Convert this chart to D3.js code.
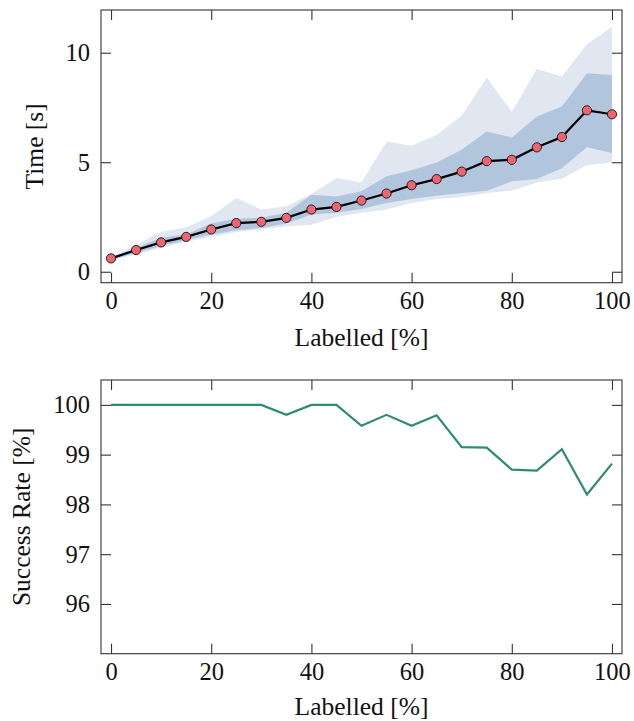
<!DOCTYPE html>
<html>
<head>
<meta charset="utf-8">
<script src="https://cdn.jsdelivr.net/npm/d3@7"></script>
<style>
  html, body { margin: 0; padding: 0; background: #fff; }
  svg text { font-family: "Liberation Serif", "DejaVu Serif", serif; fill: #111; }
</style>
</head>
<body>
<svg id="chart" width="634" height="721"></svg>
<script>
// ---- data ----
const labelled = [0,5,10,15,20,25,30,35,40,45,50,55,60,65,70,75,80,85,90,95,100];
const timeMean = [0.61,0.99,1.34,1.59,1.93,2.22,2.28,2.46,2.84,2.96,3.25,3.57,3.95,4.23,4.57,5.05,5.11,5.68,6.15,7.37,7.19];
const timeOuterLow  = [0.52,0.79,1.09,1.37,1.59,1.82,1.93,2.08,2.15,2.50,2.69,2.84,3.14,3.32,3.41,3.60,3.70,4.08,4.25,4.86,4.99];
const timeOuterHigh = [0.66,1.24,1.82,2.03,2.53,3.37,2.84,2.99,3.55,4.28,4.08,5.95,5.75,6.25,7.12,8.86,7.31,9.26,8.91,10.39,11.18];
const timeInnerLow  = [0.55,0.86,1.17,1.44,1.70,1.90,2.00,2.20,2.61,2.69,2.87,3.14,3.32,3.47,3.60,3.70,4.13,4.23,4.73,5.68,5.42];
const timeInnerHigh = [0.64,1.09,1.55,1.70,2.20,2.42,2.46,2.69,3.52,3.44,3.67,4.36,4.63,4.99,5.57,6.40,6.13,7.09,7.54,9.06,8.98];
const successRate = [100,100,100,100,100,100,100,99.8,100,100,99.58,99.8,99.58,99.79,99.15,99.14,98.70,98.68,99.11,98.20,98.82];
const xTicks = [0,20,40,60,80,100];
const timeTicks = [0,5,10];
const rateTicks = [96,97,98,99,100];

// ---- layout ----
const svg = d3.select("#chart");
const frameL = 101, frameR = 622;
const x = d3.scaleLinear().domain([-2, 102]).range([frameL, frameR]);

const panelTop = { t: 10, b: 282.7 };
const panelBot = { t: 380, b: 653.7 };
const yT = d3.scaleLinear().domain([-0.5, 11.95]).range([panelTop.b, panelTop.t]);
const yB = d3.scaleLinear().domain([95, 100.5]).range([panelBot.b, panelBot.t]);

const frameColor = "#333";
const tickLen = 10;
const tickFont = 24.5;
const labelFont = 25.5;

function drawFrame(g, y, panel, yTicks, xLabel, yLabel, yLabelX, xLabelDy) {
  const gf = g.append("g");
  gf.append("rect").attr("x", frameL).attr("y", panel.t)
    .attr("width", frameR - frameL).attr("height", panel.b - panel.t)
    .attr("fill", "none").attr("stroke", frameColor).attr("stroke-width", 1.1);
  const bottomAxis = d3.axisBottom(x).tickValues(xTicks).tickSize(-tickLen).tickPadding(9).tickFormat(d3.format("d"));
  const topAxis = d3.axisTop(x).tickValues(xTicks).tickSize(-tickLen).tickFormat("");
  const leftAxis = d3.axisLeft(y).tickValues(yTicks).tickSize(-tickLen).tickPadding(11).tickFormat(d3.format("d"));
  const rightAxis = d3.axisRight(y).tickValues(yTicks).tickSize(-tickLen).tickFormat("");
  const ax = [
    gf.append("g").attr("transform", `translate(0,${panel.b})`).call(bottomAxis),
    gf.append("g").attr("transform", `translate(0,${panel.t})`).call(topAxis),
    gf.append("g").attr("transform", `translate(${frameL},0)`).call(leftAxis),
    gf.append("g").attr("transform", `translate(${frameR},0)`).call(rightAxis)
  ];
  ax.forEach(a => {
    a.select(".domain").remove();
    a.selectAll("line").attr("stroke", frameColor).attr("stroke-width", 1.1);
    a.selectAll("text").attr("font-size", tickFont).attr("font-family", "Liberation Serif").attr("fill", "#111");
  });
  g.append("text").attr("x", (x(0) + x(100)) / 2).attr("y", panel.b + xLabelDy)
    .attr("text-anchor", "middle").attr("font-size", labelFont).text(xLabel);
  const cy = (panel.t + panel.b) / 2;
  g.append("text").attr("transform", `translate(${yLabelX},${cy}) rotate(-90)`)
    .attr("text-anchor", "middle").attr("font-size", labelFont).text(yLabel);
}

// ---- top panel ----
const gTop = svg.append("g");
const areaOuter = d3.area().x((d, i) => x(labelled[i])).y0((d, i) => yT(timeOuterLow[i])).y1((d, i) => yT(timeOuterHigh[i]));
const areaInner = d3.area().x((d, i) => x(labelled[i])).y0((d, i) => yT(timeInnerLow[i])).y1((d, i) => yT(timeInnerHigh[i]));
gTop.append("path").datum(labelled).attr("d", areaOuter).attr("fill", "#e0e7f0");
gTop.append("path").datum(labelled).attr("d", areaInner).attr("fill", "#b1c6dc");
const lineT = d3.line().x((d, i) => x(labelled[i])).y(d => yT(d));
gTop.append("path").datum(timeMean).attr("d", lineT).attr("fill", "none").attr("stroke", "#000").attr("stroke-width", 2.2);
gTop.selectAll("circle").data(timeMean).join("circle")
  .attr("cx", (d, i) => x(labelled[i])).attr("cy", d => yT(d)).attr("r", 4.6)
  .attr("fill", "#ef6470").attr("stroke", "#111").attr("stroke-width", 0.9);
drawFrame(gTop, yT, panelTop, timeTicks, "Labelled [%]", "Time [s]", 43, 63);

// ---- bottom panel ----
const gBot = svg.append("g");
const lineB = d3.line().x((d, i) => x(labelled[i])).y(d => yB(d));
gBot.append("path").datum(successRate).attr("d", lineB).attr("fill", "none").attr("stroke", "#2e8b74").attr("stroke-width", 2.2);
drawFrame(gBot, yB, panelBot, rateTicks, "Labelled [%]", "Success Rate [%]", 30, 61);
</script>
</body>
</html>
